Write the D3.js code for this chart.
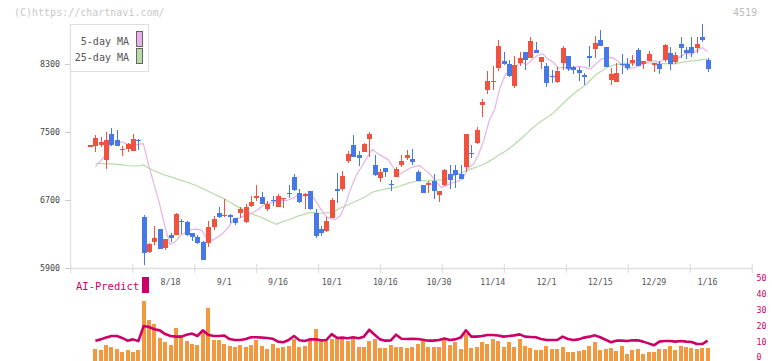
<!DOCTYPE html>
<html><head><meta charset="utf-8">
<script src="https://cdn.jsdelivr.net/npm/d3@7"></script>
<style>body{margin:0;background:#fff}svg{display:block}text{font-family:"DejaVu Sans Mono","Liberation Mono",monospace}</style>
</head><body><svg id="c" width="772" height="361"></svg>
<script>
const dates = ["7/25","7/28","7/29","7/30","7/31","8/1","8/4","8/5","8/6","8/7",
"8/8","8/12","8/13","8/14","8/15","8/18","8/19","8/20","8/21","8/22",
"8/25","8/26","8/27","8/28","8/29","9/1","9/2","9/3","9/4","9/5",
"9/8","9/9","9/10","9/11","9/12","9/16","9/17","9/18","9/19","9/22",
"9/24","9/25","9/26","9/29","9/30","10/1","10/2","10/3","10/6","10/7",
"10/8","10/9","10/10","10/14","10/15","10/16","10/17","10/20","10/21","10/22",
"10/23","10/24","10/27","10/28","10/29","10/30","10/31","11/4","11/5","11/6",
"11/7","11/10","11/11","11/12","11/13","11/14","11/17","11/18","11/19","11/20",
"11/21","11/25","11/26","11/27","11/28","12/1","12/2","12/3","12/4","12/5",
"12/8","12/9","12/10","12/11","12/12","12/15","12/16","12/17","12/18","12/19",
"12/22","12/23","12/24","12/25","12/26","12/29","12/30","1/5","1/6","1/7",
"1/8","1/9","1/13","1/14","1/15","1/16"];
const open = [7346,7338,7346,7170,7475,7405,7290,7300,7280,7410,6502,6095,6208,6361,6142,6290,6290,6458,6447,6318,6271,6212,6200,6388,6549,6520,6525,6494,6545,6447,6635,6721,6733,6596,6705,6623,6715,6785,6975,6787,6745,6807,6552,6361,6337,6486,6830,6826,7162,7346,7229,7268,7417,7112,6956,7073,6892,6975,7112,7190,7178,7033,6877,6877,6928,6760,6877,7006,7053,7006,7092,7253,7373,7815,7991,8092,8253,8332,8293,8038,8305,8433,8370,8457,8324,8273,8160,8081,8304,8390,8265,8226,8164,8386,8468,8578,8491,8109,8089,8297,8293,8312,8457,8297,8336,8285,8297,8343,8429,8324,8530,8457,8491,8487,8609,8343];
const high = [7346,7463,7440,7495,7540,7522,7335,7375,7475,7413,6522,6200,6396,6361,6243,6310,6549,6475,6450,6318,6287,6220,6458,6513,6619,6709,6537,6494,6615,6654,6748,6877,6795,6693,6748,6772,6730,6877,7006,6830,6780,6807,6596,6396,6505,6721,7014,7041,7276,7463,7280,7373,7495,7229,7061,7073,6936,7085,7229,7288,7296,7053,6877,6928,7006,6810,7061,7112,7112,7112,7475,7346,7561,7886,8214,8277,8578,8433,8343,8390,8433,8433,8617,8550,8382,8304,8226,8265,8508,8390,8277,8265,8195,8507,8628,8695,8491,8245,8304,8414,8363,8402,8480,8332,8449,8312,8332,8530,8491,8433,8609,8491,8609,8609,8766,8370];
const low = [7346,7268,7323,7065,7340,7338,7220,7265,7280,7288,5939,6085,6173,6130,6115,6212,6290,6302,6278,6224,6185,5997,6153,6353,6486,6505,6435,6408,6486,6428,6623,6693,6654,6576,6631,6615,6611,6721,6810,6670,6592,6580,6252,6282,6329,6486,6670,6810,7132,7209,7104,7260,7202,6983,6916,6975,6810,6967,7092,7170,7112,6924,6780,6780,6713,6681,6865,6830,6846,6947,7025,7198,7354,7678,7944,7991,8218,8285,8148,8019,8273,8226,8370,8421,8237,8030,8077,8073,8226,8214,8183,8097,8050,8265,8370,8511,8257,8050,8089,8179,8226,8277,8273,8237,8336,8206,8179,8320,8226,8293,8370,8355,8382,8429,8551,8198];
const close = [7346,7428,7385,7405,7350,7338,7300,7358,7417,7400,6083,6182,6255,6130,6243,6259,6537,6440,6290,6271,6200,5997,6388,6478,6505,6530,6513,6435,6592,6615,6678,6748,6654,6654,6697,6748,6725,6775,6819,6681,6770,6596,6282,6318,6455,6701,6822,6983,7241,7209,7198,7358,7475,6995,7025,7033,6884,7061,7162,7229,7143,6924,6787,6904,6810,6810,7053,6936,6995,6947,7475,7245,7522,7854,8097,8102,8507,8293,8160,8285,8363,8343,8566,8421,8382,8070,8150,8214,8480,8234,8226,8187,8156,8378,8538,8511,8265,8179,8195,8289,8253,8343,8273,8332,8414,8312,8238,8519,8297,8402,8487,8421,8429,8530,8578,8238];
const ma5 = [7092,7160,7240,7365,7384,7381,7356,7350,7353,7363,7112,6888,6667,6410,6179,6214,6285,6322,6354,6359,6348,6240,6229,6267,6314,6380,6483,6492,6515,6537,6567,6614,6657,6670,6686,6700,6696,6720,6753,6750,6754,6728,6630,6529,6484,6470,6516,6656,6840,6991,7091,7198,7296,7247,7210,7177,7082,7000,7033,7074,7096,7104,7049,6997,6914,6847,6873,6903,6921,6948,7081,7120,7237,7409,7639,7764,8016,8171,8232,8269,8322,8289,8343,8396,8415,8356,8318,8247,8259,8230,8261,8268,8257,8236,8297,8354,8370,8374,8338,8288,8236,8252,8271,8298,8323,8335,8314,8363,8356,8354,8389,8425,8407,8454,8489,8439];
const ma25 = [7132,7130,7126,7124,7120,7114,7106,7100,7100,7112,7075,7045,7020,6995,6975,6955,6935,6915,6892,6868,6840,6810,6780,6750,6720,6687,6650,6612,6580,6550,6524,6502,6474,6443,6415,6442,6463,6484,6512,6529,6550,6552,6546,6547,6554,6574,6607,6631,6661,6690,6716,6750,6792,6808,6824,6838,6844,6860,6881,6902,6918,6926,6926,6929,6935,6936,6954,6981,7008,7027,7058,7075,7097,7121,7157,7193,7239,7272,7318,7369,7422,7480,7540,7591,7637,7674,7723,7780,7843,7900,7957,8002,8051,8106,8170,8211,8252,8278,8292,8300,8306,8299,8298,8305,8310,8308,8304,8302,8297,8298,8315,8326,8334,8336,8350,8351];
const volume = [null,5.6,5.0,8.1,6.8,5.6,3.7,5.0,3.7,5.0,35.5,23.7,21.0,12.5,10.2,8.1,18.7,14.1,10.6,8.5,8.1,16.4,31.1,11.4,11.4,8.7,7.5,7.0,7.9,7.0,8.1,11.4,7.5,5.4,8.5,6.2,6.8,7.5,12.0,6.8,7.5,11.2,18.1,10.4,10.4,11.8,11.8,12.2,10.8,12.2,7.0,7.0,10.8,11.8,6.1,6.3,7.8,6.7,6.8,6.2,6.8,8.7,10.6,6.8,6.8,6.8,11.2,8.1,10.0,5.6,14.9,6.2,6.8,10.0,8.7,11.8,10.6,6.8,10.0,6.8,11.8,7.5,6.2,5.0,5.0,7.5,5.6,5.6,6.8,3.7,3.7,4.4,5.0,7.5,10.0,5.0,5.6,6.2,4.4,7.5,2.5,5.0,5.6,2.5,3.7,3.7,5.6,5.6,7.5,5.0,7.5,6.8,6.2,5.6,6.2,6.2];
const aiPredict = [null,10.8,11.6,12.7,13.7,13.7,12.5,10.8,11.6,10.5,19.9,19.3,17.9,17.2,14.9,13.7,13.3,13.3,14.5,15.2,13.7,17.2,14.5,13.7,13.7,14.0,11.8,11.2,11.2,11.8,12.9,12.9,12.7,12.5,12.0,10.2,9.8,11.2,13.7,11.0,10.6,11.6,11.6,11.0,11.2,14.9,12.5,12.7,12.3,12.9,12.3,13.3,17.6,14.5,11.6,10.8,11.0,14.5,12.0,11.8,12.0,11.8,11.4,10.8,10.8,11.2,12.2,11.2,11.6,12.7,17.2,13.3,13.3,13.7,14.3,14.3,14.0,13.3,13.7,14.1,14.7,13.3,13.1,12.9,11.8,11.2,11.2,11.2,13.3,11.8,11.2,11.6,12.7,13.3,14.1,12.9,11.4,9.8,10.8,10.8,10.6,11.0,11.0,10.2,9.1,7.9,10.2,10.6,10.6,10.2,10.6,10.2,10.0,8.7,8.7,10.8];
const xTickLabels = ["8/18","9/1","9/16","10/1","10/16","10/30","11/14","12/1","12/15","12/29","1/16"];
const priceTicks = [5900,6700,7500,8300];
const aiTicks = [0,10,20,30,40,50];
const legendItems = ["5-day MA","25-day MA"];

const svg = d3.select("#c");
const RED = "#f0523f", BLUE = "#4679e6", ORANGE = "#f3983f", MAG = "#cc0066";
const PINK = "#e7b2ea", GREEN = "#b7dba8", GRID = "#e0e0e0";

const n = dates.length;
const x = d3.scaleLinear().domain([0, n - 1]).range([90, 707.6]);
// moving-average lines are laid out from the second slot to the last one
const xMa = d3.scaleLinear().domain([0, n - 1]).range([95.4, 707.6]);
const y = d3.scaleLinear().domain([5900, 8300]).range([268.3, 63.7]);
const yv = d3.scaleLinear().domain([0, 50]).range([358, 277.7]);
const gridX = d3.scaleLinear().domain([0, 11]).range([70.7, 752.3]);

svg.append("text").attr("x", 14).attr("y", 15.5).attr("font-size", 10).attr("fill", "#c8c8c8").text("(C)https://chartnavi.com/");
svg.append("text").attr("x", 757).attr("y", 15.5).attr("text-anchor", "end").attr("font-size", 10).attr("fill", "#bbbbbb").text("4519");

svg.append("line").attr("x1", 70.5).attr("x2", 70.5).attr("y1", 24).attr("y2", 268.5).attr("stroke", GRID).attr("stroke-width", 1.3);
svg.append("line").attr("x1", 70).attr("x2", 752.5).attr("y1", 268.5).attr("y2", 268.5).attr("stroke", GRID).attr("stroke-width", 1.3);
svg.selectAll(".gt").data(d3.range(12)).join("line")
  .attr("x1", d => gridX(d)).attr("x2", d => gridX(d)).attr("y1", 264).attr("y2", 273)
  .attr("stroke", GRID).attr("stroke-width", 1.3);
svg.selectAll(".pt").data(priceTicks).join("line")
  .attr("x1", 65).attr("x2", 70.5).attr("y1", d => Math.round(y(d)) + 0.5).attr("y2", d => Math.round(y(d)) + 0.5)
  .attr("stroke", "#cccccc");
svg.selectAll(".pl").data(priceTicks).join("text")
  .attr("x", 60).attr("y", d => y(d) + 3).attr("text-anchor", "end").attr("font-size", 8.3).attr("fill", "#444")
  .text(d => d);
svg.selectAll(".xl").data(xTickLabels).join("text")
  .attr("x", d => x(dates.indexOf(d))).attr("y", 285).attr("text-anchor", "middle").attr("font-size", 8.3).attr("fill", "#555")
  .text(d => d);

const maLine = arr => d3.line().defined(d => d != null).x((d, i) => xMa(i)).y(d => y(d))(arr);
svg.append("path").attr("d", maLine(ma25)).attr("fill", "none").attr("stroke", GREEN).attr("stroke-width", 1.2);
svg.append("path").attr("d", maLine(ma5)).attr("fill", "none").attr("stroke", PINK).attr("stroke-width", 1.2);

const idx = d3.range(n);
const g = svg.append("g").attr("shape-rendering", "crispEdges");
g.selectAll(".wick").data(idx).join("line")
  .attr("x1", i => Math.round(x(i)) + 0.5).attr("x2", i => Math.round(x(i)) + 0.5)
  .attr("y1", i => y(high[i])).attr("y2", i => y(low[i]))
  .attr("stroke", i => close[i] >= open[i] ? RED : BLUE).attr("stroke-width", 1);
g.selectAll(".body").data(idx).join("rect")
  .attr("x", i => Math.round(x(i)) - 2).attr("width", 5)
  .attr("y", i => y(Math.max(open[i], close[i])))
  .attr("height", i => Math.max(1.5, Math.abs(y(open[i]) - y(close[i]))))
  .attr("fill", i => close[i] >= open[i] ? RED : BLUE);

svg.append("rect").attr("x", 70.5).attr("y", 24.5).attr("width", 78).attr("height", 47).attr("fill", "#fff").attr("stroke", "#dddddd");
svg.selectAll(".lt").data(legendItems).join("text")
  .attr("x", 129).attr("y", (d, i) => 44.5 + i * 16).attr("text-anchor", "end").attr("font-size", 10).attr("fill", "#555").text(d => d);
svg.selectAll(".ls").data([PINK, GREEN]).join("rect")
  .attr("x", 136.5).attr("y", (d, i) => 31.5 + i * 17).attr("width", 6).attr("height", 15)
  .attr("fill", d => d).attr("stroke", "#666");

svg.append("text").attr("x", 76).attr("y", 290).attr("font-size", 10.5).attr("fill", MAG).text("AI-Predict");
svg.append("rect").attr("x", 142).attr("y", 277).attr("width", 7).attr("height", 16).attr("fill", MAG);
svg.append("g").attr("shape-rendering", "crispEdges").selectAll("rect").data(idx.filter(i => volume[i] != null)).join("rect")
  .attr("x", i => Math.round(x(i)) - 2).attr("width", 4)
  .attr("y", i => yv(volume[i])).attr("height", i => yv(0) - yv(volume[i]) + 3)
  .attr("fill", ORANGE);
svg.append("path")
  .attr("d", d3.line().defined(d => d != null).x((d, i) => x(i)).y(d => yv(d))(aiPredict))
  .attr("fill", "none").attr("stroke", MAG).attr("stroke-width", 2.6).attr("stroke-linejoin", "round");
svg.selectAll(".al").data(aiTicks).join("text")
  .attr("x", 756.5).attr("y", d => Math.min(yv(d) + 2.8, 359.5)).attr("font-size", 8.3).attr("fill", MAG).text(d => d);
</script></body></html>
